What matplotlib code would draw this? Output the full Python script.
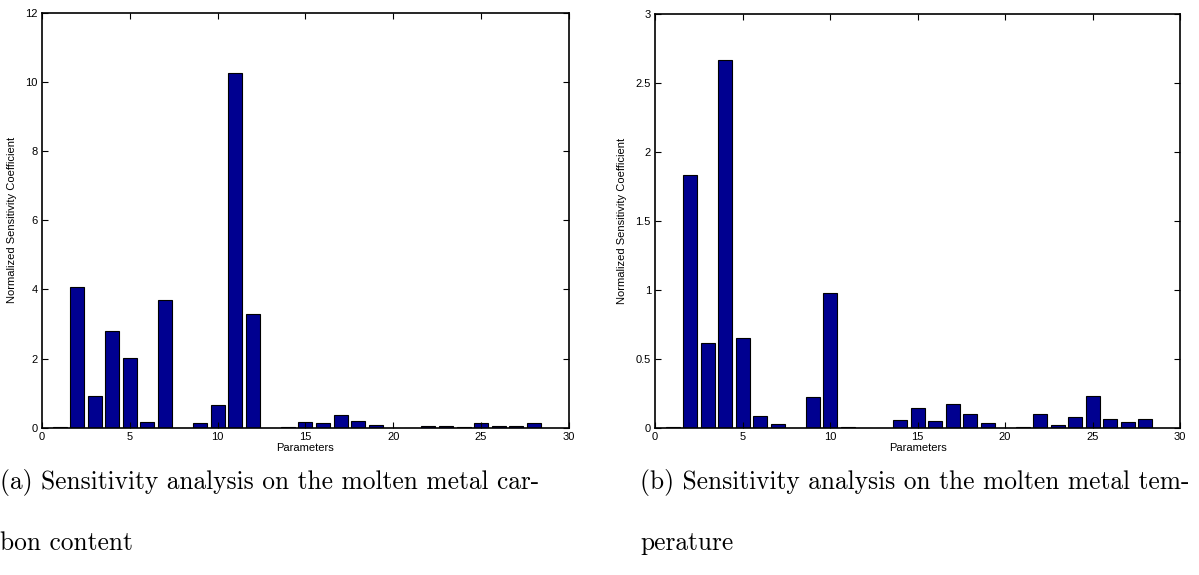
import numpy as np
import matplotlib.pyplot as plt

# sensitivity coefficients for parameters 1..28
params = np.arange(1, 29)
carbon = [0.01, 4.08, 0.92, 2.79, 2.02, 0.17, 3.69, 0.0, 0.13, 0.65,
          10.25, 3.30, 0.0, 0.01, 0.16, 0.135, 0.37, 0.20, 0.087, 0.0,
          0.005, 0.05, 0.04, 0.02, 0.145, 0.05, 0.035, 0.135]
temperature = [0.003, 1.835, 0.616, 2.664, 0.650, 0.082, 0.024, 0.0, 0.222, 0.979,
               0.003, 0.001, 0.001, 0.053, 0.141, 0.050, 0.171, 0.096, 0.033, 0.0,
               0.002, 0.096, 0.020, 0.076, 0.232, 0.065, 0.043, 0.065]

xticks = [0, 5, 10, 15, 20, 25, 30]
yticks_a = [0, 2, 4, 6, 8, 10, 12]
yticks_b = [0, 0.5, 1, 1.5, 2, 2.5, 3]
ytlabels_b = ['0', '0.5', '1', '1.5', '2', '2.5', '3']

captions = ["(a) Sensitivity analysis on the molten metal car-\nbon content",
            "(b) Sensitivity analysis on the molten metal tem-\nperature"]

plt.rcParams['font.family'] = ['Liberation Sans', 'DejaVu Sans']

fig = plt.figure(figsize=(11.99, 5.75), dpi=100)
ax1 = fig.add_axes([0.035, 0.2562, 0.4395, 0.7217])
ax2 = fig.add_axes([0.5463, 0.2562, 0.4379, 0.7195])


def draw(ax, vals, ymax, yticks, ylabels):
    ax.bar(params, vals, width=0.8, color='#000090', edgecolor='black', linewidth=0.8)
    ax.set_xlim(0, 30)
    ax.set_ylim(0, ymax)
    ax.set_xticks(xticks)
    ax.set_yticks(yticks)
    ax.set_yticklabels(ylabels)
    ax.tick_params(direction='in', top=True, right=True, length=4, width=0.8,
                   labelsize=8, pad=3)
    ax.set_xlabel('Parameters', fontsize=8, labelpad=1)
    ax.set_ylabel('Normalized Sensitivity Coefficient', fontsize=8, labelpad=6)
    for s in ax.spines.values():
        s.set_linewidth(1.2)


draw(ax1, carbon, 12, yticks_a, [str(t) for t in yticks_a])
draw(ax2, temperature, 3, yticks_b, ytlabels_b)

# subfigure captions
fig.text(0.0, 0.184, captions[0], family='cmr10', fontsize=18.3, va='top',
         linespacing=2.85)
fig.text(0.534, 0.184, captions[1], family='cmr10', fontsize=18.3, va='top',
         linespacing=2.85)

fig.savefig('out.png', dpi=100)
